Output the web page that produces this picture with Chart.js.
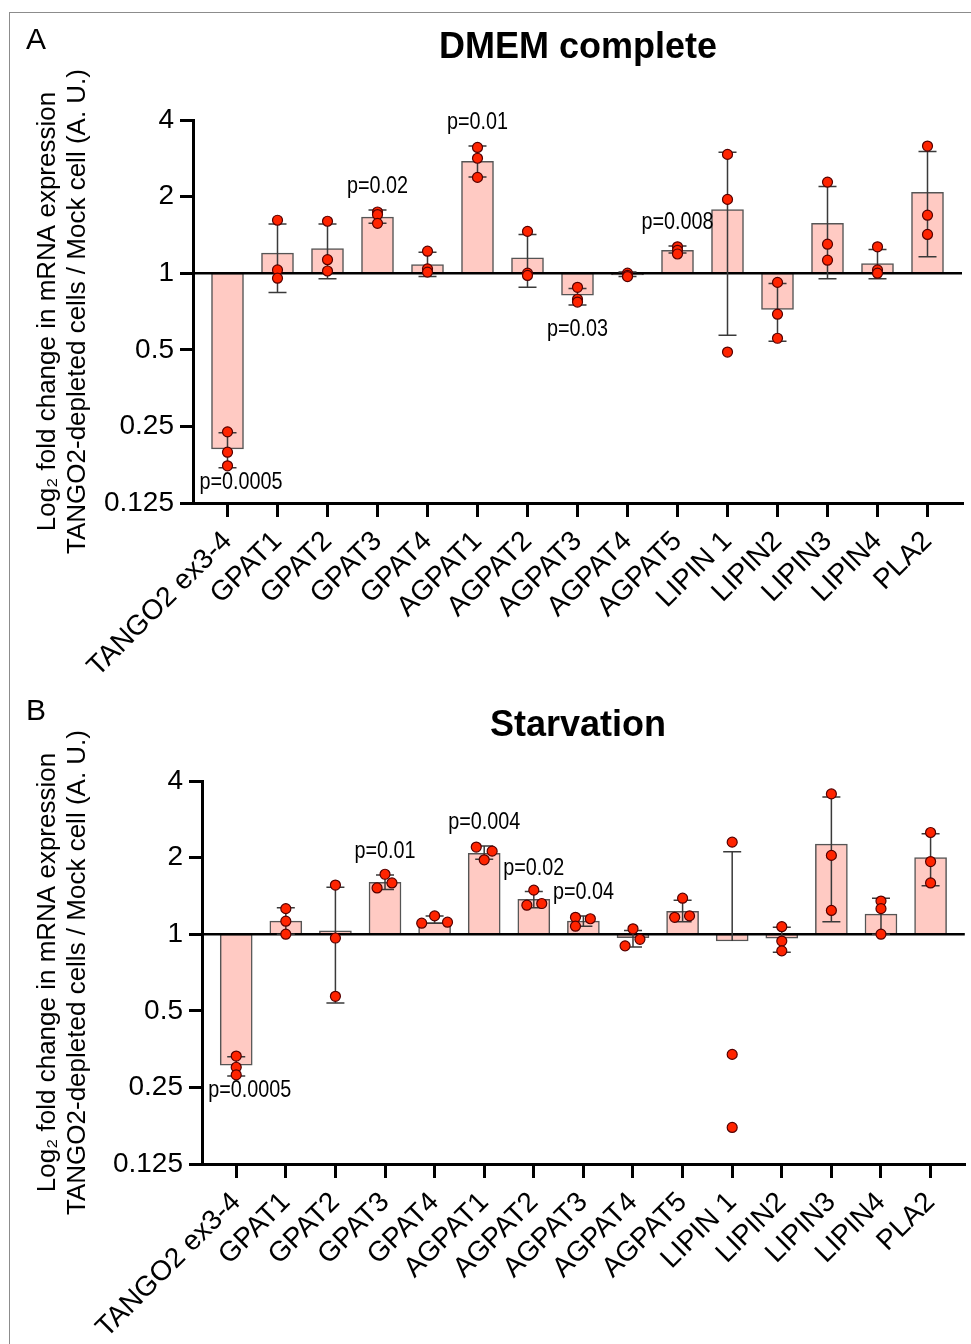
<!DOCTYPE html>
<html>
<head>
<meta charset="utf-8">
<script src="https://cdn.jsdelivr.net/npm/chart.js@4.4.1/dist/chart.umd.min.js"></script>
<style>
body{margin:0;background:#fff;}
#wrap{position:relative;width:971px;height:1344px;overflow:hidden;}
#frame{position:absolute;left:9px;top:12px;width:1000px;height:1400px;border-left:1px solid #8c8c8c;border-top:1px solid #8c8c8c;}
#chartA{position:absolute;left:0;top:0;}
#chartB{position:absolute;left:0;top:680px;}
</style>
</head>
<body>
<div id="wrap">
<div id="frame"></div>
<canvas id="chartA" width="971" height="680"></canvas>
<canvas id="chartB" width="971" height="664"></canvas>
</div>
<script>
var genes = ['TANGO2 ex3-4','GPAT1','GPAT2','GPAT3','GPAT4','AGPAT1','AGPAT2','AGPAT3','AGPAT4','AGPAT5','LIPIN 1','LIPIN2','LIPIN3','LIPIN4','PLA2'];
var yTicks = [0.125, 0.25, 0.5, 1, 2, 4];

// A: DMEM complete (fold change, bar = mean, hi/lo = error bar ends)
var meanA = [0.204, 1.20, 1.25, 1.66, 1.08, 2.75, 1.15, 0.82, 0.985, 1.23, 1.78, 0.72, 1.57, 1.09, 2.08];
var hiA   = [0.236, 1.56, 1.56, 1.77, 1.21, 3.16, 1.42, 0.87, 1.01, 1.28, 2.99, 0.91, 2.19, 1.24, 3.01];
var loA   = [0.172, 0.84, 0.95, 1.57, 0.97, 2.39, 0.88, 0.75, 0.97, 1.20, 0.57, 0.54, 0.95, 0.95, 1.16];
var repA  = [[0.238,0.198,0.175],[1.615,1.03,0.956],[1.6,1.13,1.02],[1.74,1.70,1.57],[1.22,1.04,1.01],
             [3.12,2.83,2.38],[1.46,1.0,0.98],[0.88,0.79,0.77],[1.0,0.98,0.97],[1.27,1.23,1.19],
             [2.93,1.95,0.49],[0.92,0.69,0.555],[2.28,1.30,1.125],[1.27,1.03,1.0],[3.16,1.69,1.42]];
var pA = [[0,'p=0.0005','belowL'],[3,'p=0.02','above'],[5,'p=0.01','above'],[7,'p=0.03','below'],[9,'p=0.008','above']];

// B: Starvation
var meanB = [0.306, 1.125, 1.03, 1.6, 1.11, 2.08, 1.37, 1.125, 0.97, 1.23, 0.94, 0.965, 2.26, 1.2, 2.0];
var hiB   = [0.33, 1.27, 1.53, 1.71, 1.18, 2.22, 1.47, 1.18, 1.035, 1.36, 2.11, 1.065, 3.46, 1.385, 2.48];
var loB   = [0.277, 1.0, 0.536, 1.5, 1.105, 1.97, 1.27, 1.075, 0.89, 1.12, null, 0.85, 1.12, 1.0, 1.55];
var repB  = [[0.332,0.30,0.28],[1.26,1.125,1.0],[1.56,0.966,0.57],[1.72,1.52,1.59],[1.18,1.105,1.115],
             [2.2,2.12,1.96],[1.49,1.30,1.32],[1.165,1.15,1.075],[1.05,0.955,0.9],[1.385,1.165,1.18],
             [2.3,0.337,0.174],[1.07,0.94,0.86],[3.56,2.04,1.24],[1.35,1.26,1.0],[2.51,1.93,1.59]];
var spreadB = [[0,0,0],[0,0,0],[0,0,0],[0,-0.16,0.14],[0,-0.26,0.26],[-0.16,0.16,0],[0,-0.14,0.16],
               [-0.16,0.14,-0.16],[0,0.14,-0.16],[0,-0.16,0.14],[0,0,0],[0,0,0],[0,0,0],[0,0,0],[0,0,0]];
var pB = [[0,'p=0.0005','belowL'],[3,'p=0.01','above'],[5,'p=0.004','above'],[6,'p=0.02','above'],[7,'p=0.04','above']];

Chart.defaults.font.family = '"Liberation Sans", Arial, sans-serif';
Chart.defaults.color = '#000';

// p-value text is a bit narrow in the original, so squeeze it horizontally
function narrowText(ctx, txt, x, y, align){
  var sx = 0.86;
  var w = ctx.measureText(txt).width * sx;
  var left = align === 'center' ? x - w / 2 : x;
  ctx.save();
  ctx.translate(left, y);
  ctx.scale(sx, 1);
  ctx.textAlign = 'left';
  ctx.fillText(txt, 0, 0);
  ctx.restore();
}

function panelPlugin(p){
  return {
    id:'panel',
    afterDatasetDraw: function(chart, args){
      if(args.index !== 0) return;
      var ctx = chart.ctx, x = chart.scales.x, y = chart.scales.y, a = chart.chartArea;
      ctx.save();
      ctx.strokeStyle = '#000'; ctx.lineWidth = 2.5;
      var y1 = y.getPixelForValue(1);
      ctx.beginPath(); ctx.moveTo(a.left, y1); ctx.lineTo(a.right, y1); ctx.stroke();
      ctx.strokeStyle = '#3a3a3a'; ctx.lineWidth = 1.5;
      for(var i=0;i<p.hi.length;i++){
        var cx = x.getPixelForValue(i);
        var yt = y.getPixelForValue(p.hi[i]);
        var yb = y.getPixelForValue(p.lo[i] == null ? p.mean[i] : p.lo[i]);
        ctx.beginPath();
        ctx.moveTo(cx, yt); ctx.lineTo(cx, yb);
        ctx.moveTo(cx-9, yt); ctx.lineTo(cx+9, yt);
        if(p.lo[i] != null){ ctx.moveTo(cx-9, yb); ctx.lineTo(cx+9, yb); }
        ctx.stroke();
      }
      ctx.restore();
    },
    afterDraw: function(chart){
      var ctx = chart.ctx, x = chart.scales.x, y = chart.scales.y;
      ctx.save();
      ctx.fillStyle = '#000';
      ctx.textBaseline = 'middle';
      ctx.font = 'bold 36px "Liberation Sans", Arial, sans-serif';
      ctx.textAlign = 'center';
      ctx.fillText(p.title, 578, p.titleY);
      ctx.font = '30px "Liberation Sans", Arial, sans-serif';
      ctx.textAlign = 'left';
      ctx.fillText(p.letter, 26, p.letterY);
      ctx.font = '23px "Liberation Sans", Arial, sans-serif';
      p.pvals.forEach(function(l){
        var cx = x.getPixelForValue(l[0]);
        if(l[2] === 'above'){
          narrowText(ctx, l[1], cx, y.getPixelForValue(p.hi[l[0]]) - 23, 'center');
        } else if(l[2] === 'below'){
          narrowText(ctx, l[1], cx, y.getPixelForValue(p.lo[l[0]]) + 25, 'center');
        } else {
          narrowText(ctx, l[1], cx - 28, y.getPixelForValue(p.lo[l[0]]) + 15, 'left');
        }
      });
      ctx.restore();
    }
  };
}

function makePanel(id, p){
  var canvas = document.getElementById(id);
  var H = canvas.height;
  var pts = [];
  p.reps.forEach(function(r, i){
    r.forEach(function(v, j){
      pts.push({x: i + (p.spread ? p.spread[i][j] : 0), y: v});
    });
  });
  return new Chart(canvas, {
    type:'bar',
    data:{
      datasets:[
        {type:'bar', data:p.mean.map(function(v,i){ return {x:i, y:[1, v]}; }),
         backgroundColor:'#ffcac3', borderColor:'#555', borderWidth:1.5, borderSkipped:false,
         barThickness:32, order:1},
        {type:'scatter', data:pts, pointRadius:5, pointBackgroundColor:'#ff2400',
         pointBorderColor:'#550000', pointBorderWidth:1.2, order:0}
      ]
    },
    options:{
      responsive:false, animation:false,
      layout:{padding:{top:p.area.top, right:971 - p.area.right, left:0, bottom:0}},
      plugins:{legend:{display:false}, tooltip:{enabled:false}},
      scales:{
        x:{type:'linear', min:-0.69, max:14.69, offset:false,
           afterBuildTicks:function(s){ s.ticks = genes.map(function(g,i){ return {value:i}; }); },
           afterFit:function(s){ s.height = H - p.area.bottom; s.paddingLeft = 0; s.paddingRight = 0; },
           ticks:{autoSkip:false, minRotation:45, maxRotation:45, padding:8, font:{size:28},
                  callback:function(v){ return genes[v]; }},
           grid:{drawOnChartArea:false, offset:false, tickLength:14, lineWidth:3, color:'#000'},
           border:{display:true, width:3, color:'#000'}},
        y:{type:'logarithmic', min:0.125, max:4,
           afterBuildTicks:function(s){ s.ticks = yTicks.map(function(v){ return {value:v}; }); },
           afterFit:function(s){ s.width = p.area.left; },
           ticks:{padding:6, font:{size:28}, callback:function(v){ return String(v); }},
           grid:{drawOnChartArea:false, tickLength:13, lineWidth:3, color:'#000'},
           border:{display:true, width:3, color:'#000'},
           title:{display:true, text:['Log\u2082 fold change in mRNA expression','TANGO2-depleted cells / Mock cell (A. U.)'],
                  font:{size:26, lineHeight:1.15}, padding:{top:33, bottom:0}}}
      }
    },
    plugins:[panelPlugin(p)]
  });
}

makePanel('chartA', {title:'DMEM complete', titleY:48, letter:'A', letterY:41,
  mean:meanA, hi:hiA, lo:loA, reps:repA, pvals:pA,
  area:{left:193, top:120, right:962, bottom:503}});
makePanel('chartB', {title:'Starvation', titleY:46, letter:'B', letterY:32,
  mean:meanB, hi:hiB, lo:loB, reps:repB, spread:spreadB, pvals:pB,
  area:{left:202, top:101, right:970, bottom:484}});
</script>
</body>
</html>
